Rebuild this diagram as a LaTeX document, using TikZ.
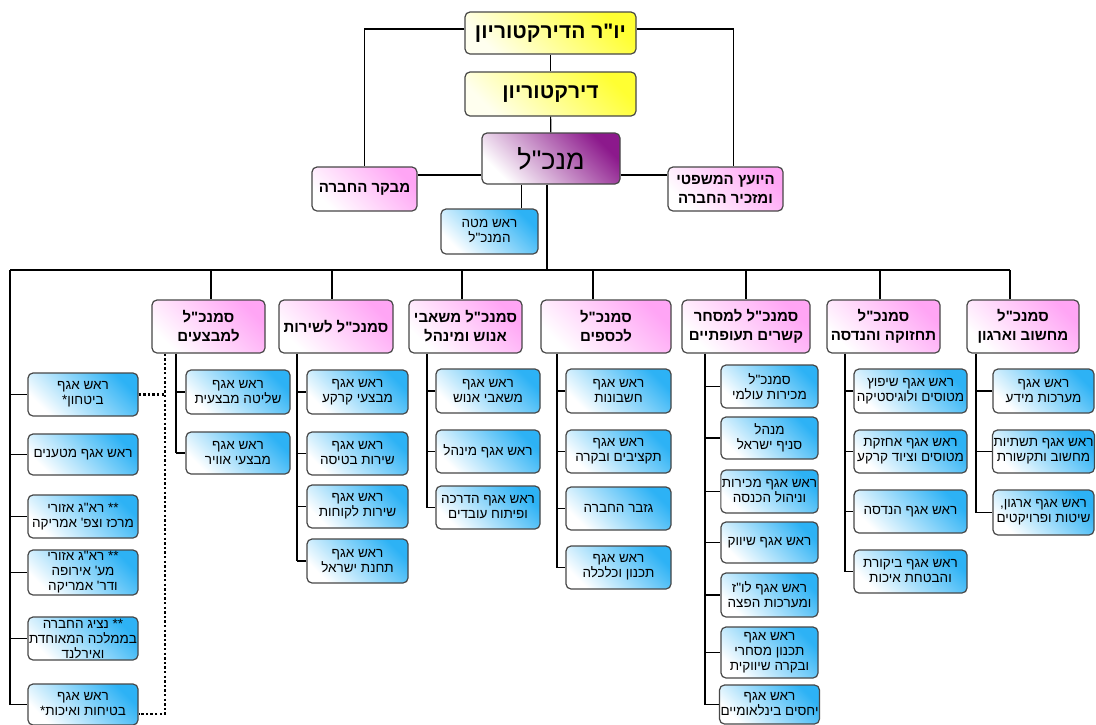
\documentclass[tikz,border=0pt]{standalone}
\usepackage{fontspec}
\newfontfamily\heb[Script=Hebrew,Ligatures=TeXOff]{Liberation Sans}
\TeXXeTstate=1
\usetikzlibrary{calc}
\newcommand\R[1]{\beginR #1\endR}
\newcommand\bx[7]{\node[#1, minimum width={#5-#3}, minimum height={#6-#4}] (#2) at ({(#3+#5)/2},{(#4+#6)/2}) {#7};}
\definecolor{bl}{RGB}{45,178,245}
\definecolor{pk}{RGB}{255,165,245}
\definecolor{pu}{RGB}{140,25,140}
\definecolor{ye}{RGB}{255,255,50}
\tikzset{
  box/.style={draw=black!72, line width=1.2pt, rounded corners=5pt, inner sep=1pt, align=center},
  blueb/.style={box, top color=bl, bottom color=white, shading angle=-45, font=\heb\fontsize{13.5}{15}\selectfont},
  pinkb/.style={box, top color=pk, bottom color=white, shading angle=-45, font=\heb\bfseries\fontsize{15}{19}\selectfont},
  yelb/.style={box, top color=ye, bottom color=ye!8, shading angle=-45, font=\heb\bfseries\fontsize{21}{24}\selectfont},
  purb/.style={box, top color=pu, bottom color=white, shading angle=-45, font=\heb\fontsize{27}{30}\selectfont},
  conn/.style={draw=black, line width=1.1pt},
  dotline/.style={draw=black, line width=2.6pt, dash pattern=on 2.4pt off 2.2pt}
}
\begin{document}
\begin{tikzpicture}[x=1pt,y=-1pt]
\path[use as bounding box, fill=white] (0,0) rectangle (1096,724);
% top
\bx{yelb}{chair}{465}{12}{636}{54}{\R{יו"ר הדירקטוריון}}
\bx{yelb}{board}{465}{72}{636}{116}{\R{דירקטוריון}}
\bx{purb}{ceo}{482}{133}{620}{184}{\R{מנכ"ל}}
\bx{pinkb}{audit}{312}{167}{417}{211}{\R{מבקר החברה}}
\bx{pinkb}{legal}{668}{167}{783}{211}{\R{היועץ המשפטי}\\\R{ומזכיר החברה}}
\bx{blueb}{staff}{441}{209}{538}{254}{\R{ראש מטה}\\\R{המנכ"ל}}
% departments
\bx{pinkb}{d1}{152}{300}{265}{353}{\R{סמנכ"ל}\\\R{למבצעים}}
\bx{pinkb}{d2}{279}{300}{393}{353}{\R{סמנכ"ל לשירות}}
\bx{pinkb}{d3}{409}{300}{522}{353}{\R{סמנכ"ל משאבי}\\\R{אנוש ומינהל}}
\bx{pinkb}{d4}{541}{300}{671}{353}{\R{סמנכ"ל}\\\R{לכספים}}
\bx{pinkb}{d5}{682}{300}{810}{353}{\R{סמנכ"ל למסחר}\\\R{קשרים תעופתיים}}
\bx{pinkb}{d6}{827}{300}{940}{353}{\R{סמנכ"ל}\\\R{תחזוקה והנדסה}}
\bx{pinkb}{d7}{967}{300}{1079}{353}{\R{סמנכ"ל}\\\R{מחשוב וארגון}}
% left column
\bx{blueb}{L1}{28}{373}{138}{416}{\R{ראש אגף}\\*\R{ביטחון}}
\bx{blueb}{L2}{28}{434}{138}{475}{\R{ראש אגף מטענים}}
\bx{blueb}{L3}{28}{495}{138}{538}{\R{** רא"ג אזורי}\\\R{מרכז וצפ' אמריקה}}
\bx{blueb}{L4}{28}{550}{138}{595}{\R{** רא"ג אזורי}\\\R{מע' אירופה}\\\R{ודר' אמריקה}}
\bx{blueb}{L5}{28}{617}{138}{660}{\R{** נציג החברה}\\\R{בממלכה המאוחדת}\\\R{ואירלנד}}
\bx{blueb}{L6}{28}{684}{138}{725}{\R{ראש אגף}\\*\R{בטיחות ואיכות}}
% d1
\bx{blueb}{a1}{186}{370}{290}{414}{\R{ראש אגף}\\\R{שליטה מבצעית}}
\bx{blueb}{a2}{186}{432}{290}{474}{\R{ראש אגף}\\\R{מבצעי אוויר}}
% d2
\bx{blueb}{b1}{307}{370}{408}{414}{\R{ראש אגף}\\\R{מבצעי קרקע}}
\bx{blueb}{b2}{307}{432}{408}{475}{\R{ראש אגף}\\\R{שירות בטיסה}}
\bx{blueb}{b3}{307}{485}{408}{528}{\R{ראש אגף}\\\R{שירות לקוחות}}
\bx{blueb}{b4}{307}{539}{408}{583}{\R{ראש אגף}\\\R{תחנת ישראל}}
% d3
\bx{blueb}{c1}{436}{369}{540}{413}{\R{ראש אגף}\\\R{משאבי אנוש}}
\bx{blueb}{c2}{436}{430}{540}{473}{\R{ראש אגף מינהל}}
\bx{blueb}{c3}{436}{486}{540}{529}{\R{ראש אגף הדרכה}\\\R{ופיתוח עובדים}}
% d4
\bx{blueb}{e1}{566}{369}{671}{413}{\R{ראש אגף}\\\R{חשבונות}}
\bx{blueb}{e2}{566}{430}{671}{473}{\R{ראש אגף}\\\R{תקציבים ובקרה}}
\bx{blueb}{e3}{566}{487}{671}{530}{\R{גזבר החברה}}
\bx{blueb}{e4}{566}{546}{671}{589}{\R{ראש אגף}\\\R{תכנון וכלכלה}}
% d5
\bx{blueb}{f1}{721}{365}{818}{408}{\R{סמנכ"ל}\\\R{מכירות עולמי}}
\bx{blueb}{f2}{721}{417}{818}{459}{\R{מנהל}\\\R{סניף ישראל}}
\bx{blueb}{f3}{721}{470}{818}{513}{\R{ראש אגף מכירות}\\\R{וניהול הכנסה}}
\bx{blueb}{f4}{721}{522}{818}{563}{\R{ראש אגף שיווק}}
\bx{blueb}{f5}{721}{573}{818}{617}{\R{ראש אגף לו"ז}\\\R{ומערכות הפצה}}
\bx{blueb}{f6}{721}{627}{818}{678}{\R{ראש אגף}\\\R{תכנון מסחרי}\\\R{ובקרה שיווקית}}
\bx{blueb}{f7}{721}{685}{818}{724}{\R{ראש אגף}\\\R{יחסים בינלאומיים}}
% d6
\bx{blueb}{g1}{854}{369}{967}{413}{\R{ראש אגף שיפוץ}\\\R{מטוסים ולוגיסטיקה}}
\bx{blueb}{g2}{854}{430}{967}{473}{\R{ראש אגף אחזקת}\\\R{מטוסים וציוד קרקע}}
\bx{blueb}{g3}{854}{490}{967}{533}{\R{ראש אגף הנדסה}}
\bx{blueb}{g4}{854}{550}{967}{593}{\R{ראש אגף ביקורת}\\\R{והבטחת איכות}}
% d7
\bx{blueb}{h1}{993}{369}{1094}{413}{\R{ראש אגף}\\\R{מערכות מידע}}
\bx{blueb}{h2}{993}{430}{1094}{473}{\R{ראש אגף תשתיות}\\\R{מחשוב ותקשורת}}
\bx{blueb}{h3}{993}{490}{1094}{535}{\R{ראש אגף ארגון,}\\\R{שיטות ופרויקטים}}
% connectors top
\draw[conn] ([yshift=4pt]chair.west) -| (audit.north);
\draw[conn] ([yshift=4pt]chair.east) -| ([xshift=8pt]legal.north);
\draw[conn] (chair) -- (board);
\draw[conn] (board) -- (ceo);
\coordinate (hl) at (0,175);
\draw[conn] (audit.east |- hl) -- (ceo.west |- hl);
\draw[conn] (ceo.east |- hl) -- (legal.west |- hl);
\draw[conn] ([xshift=32pt]staff.north) -- ([xshift=32pt]staff.north |- ceo.south);
\coordinate (bus) at (547,270);
\draw[conn] (ceo.south -| bus) -- (bus);
% bus
\coordinate (L0) at (10,270);
\coordinate (t1) at (211,270);
\coordinate (t2) at (332,270);
\coordinate (t3) at (462,270);
\coordinate (t4) at (593,270);
\coordinate (t5) at (746,270);
\coordinate (t6) at (880,270);
\coordinate (t7) at (1010,270);
\draw[conn] (L0) -- (t7);
\foreach \i in {1,...,7} { \draw[conn] (t\i) -- (t\i |- d\i.north); }
% left column
\draw[conn] (L0) -- (L0 |- L6);
\foreach \n in {L1,L2,L3,L4,L5,L6} { \draw[conn] (L0 |- \n) -- (\n.west); }
% department verticals
\coordinate (v1) at (176,0);
\coordinate (v2) at (297,0);
\coordinate (v3) at (427,0);
\coordinate (v4) at (557,0);
\coordinate (v5) at (705,0);
\coordinate (v6) at (845,0);
\coordinate (v7) at (976,0);
\draw[conn] (v1 |- d1.south) -- (v1 |- a2);
\foreach \n in {a1,a2} { \draw[conn] (v1 |- \n) -- (\n.west); }
\draw[conn] (v2 |- d2.south) -- (v2 |- b4);
\foreach \n in {b1,b2,b3,b4} { \draw[conn] (v2 |- \n) -- (\n.west); }
\draw[conn] (v3 |- d3.south) -- (v3 |- c3);
\foreach \n in {c1,c2,c3} { \draw[conn] (v3 |- \n) -- (\n.west); }
\draw[conn] (v4 |- d4.south) -- (v4 |- e4);
\foreach \n in {e1,e2,e3,e4} { \draw[conn] (v4 |- \n) -- (\n.west); }
\draw[conn] (v5 |- d5.south) -- (v5 |- f7);
\foreach \n in {f1,f2,f3,f4,f5,f6,f7} { \draw[conn] (v5 |- \n) -- (\n.west); }
\draw[conn] (v6 |- d6.south) -- (v6 |- g4);
\foreach \n in {g1,g2,g3,g4} { \draw[conn] (v6 |- \n) -- (\n.west); }
\draw[conn] (v7 |- d7.south) -- (v7 |- h3);
\foreach \n in {h1,h2,h3} { \draw[conn] (v7 |- \n) -- (\n.west); }
% dotted
\coordinate (dv) at (165,0);
\coordinate (dlow) at (0,714);
\draw[dotline] (L1.east) -- (L1.east -| dv);
\draw[dotline] (dv |- d1.south) -- (dv |- dlow) -- (L6.east |- dlow);
\end{tikzpicture}
\end{document}
